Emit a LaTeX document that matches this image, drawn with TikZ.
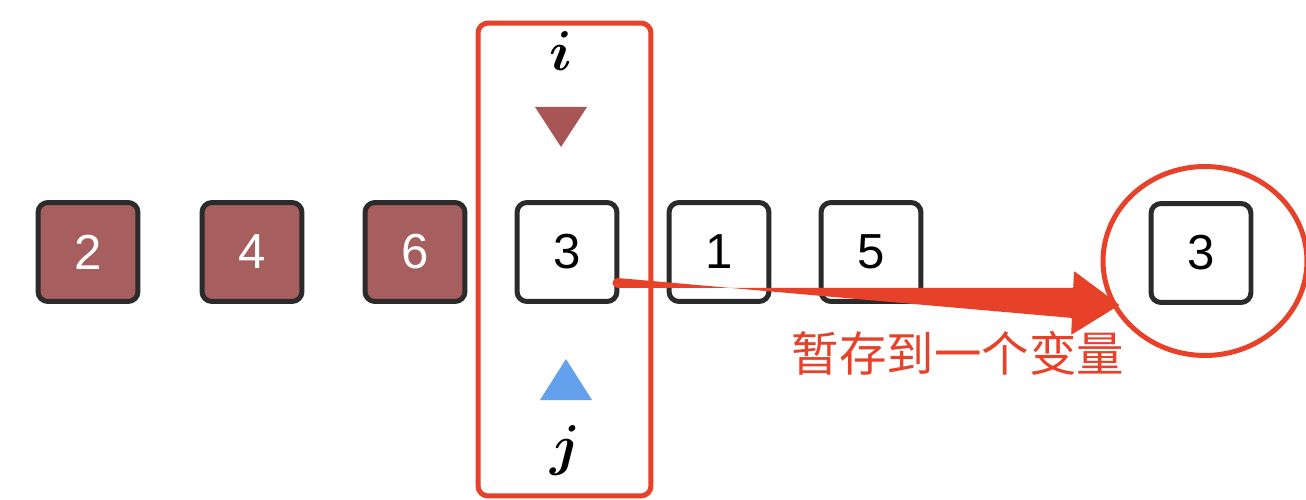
\documentclass[tikz,border=0pt]{standalone}
\usepackage{fix-cm}
\usepackage{fontspec}
\setmainfont{Liberation Sans}
\newfontfamily\cjk{Noto Sans CJK SC}
\usetikzlibrary{positioning,calc,shapes.geometric}
\definecolor{markred}{HTML}{E8412A}
\definecolor{cellred}{HTML}{A65E5E}
\definecolor{cellline}{HTML}{2B2B2B}
\definecolor{ptrred}{HTML}{A85555}
\definecolor{ptrblue}{HTML}{64A0EC}
\tikzset{
  cell/.style={draw=cellline, line width=0.1cm, rounded corners=0.2cm, minimum width=2cm, minimum height=1.98cm, font=\fontsize{28}{30}\selectfont},
  sorted/.style={cell, fill=cellred, text=white},
  redmark/.style={draw=markred, line width=0.1cm},
  ptrlabel/.style={font=\boldmath\fontsize{32}{36}\selectfont},
}
\begin{document}
\begin{tikzpicture}[x=0.02cm, y=-0.02cm]
    \useasboundingbox (0,0) rectangle (1306,500);
    % Sorted part
    \node[sorted] (b2) at (88,252) {2};
    \node[sorted] (b4) at (252,252) {4};
    \node[sorted] (b6) at (415,252) {6};

    % Unsorted part
    \node[cell] (b3) at (567,252) {3};
    \node[cell] (b1) at (719,252) {1};
    \node[cell] (b5) at (871,252) {5};

    % Temporary variable
    \node[cell] (tmp) at (1201,253) {3};
    \node[redmark, ellipse, minimum width=4.08cm, minimum height=3.78cm] (circ) at (1205,261) {};

    % Frame with pointers i and j
    \node[redmark, rounded corners=0.2cm, minimum width=3.46cm, minimum height=9.46cm] (frame) at (564.5,259.5) {};
    \node[ptrlabel] (i) at (561,51) {$i$};
    \node[ptrlabel] (j) at (565,450) {$j$};
    \fill[ptrred] (535,107) -- (587,107) -- (561,147) -- cycle;
    \fill[ptrblue] (540,400) -- (592,400) -- (566,359) -- cycle;

    % Arrow into the variable
    \coordinate (s) at ($(b3.east)+(-2,31)$);
    \coordinate (t) at ($(circ.west)+(19,44)$);
    \coordinate (h) at ($(t)!0.94cm!(s)$);
    \fill[markred, rounded corners=0.5pt]
        ($(s)!0.1cm!90:(t)$) -- ($(h)!0.3cm!-90:(t)$) -- ($(h)!0.64cm!-90:(t)$)
        -- (t) -- ($(h)!0.64cm!90:(t)$) -- ($(h)!0.3cm!90:(t)$)
        -- ($(s)!0.1cm!-90:(t)$) -- cycle;
    \fill[markred] (s) circle (0.1cm);
    \node[text=markred, font=\cjk\fontsize{27}{30}\selectfont] (note) at (958,353) {暂存到一个变量};
\end{tikzpicture}
\end{document}
